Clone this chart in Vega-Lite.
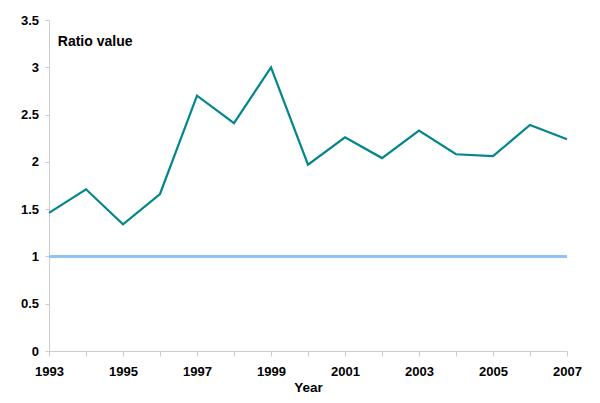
{
  "$schema": "https://vega.github.io/schema/vega-lite/v6.json",
  "width": 518,
  "height": 331,
  "autosize": "none",
  "padding": {"left": 49, "top": 20, "right": 33, "bottom": 52},
  "background": "white",
  "config": {"view": {"stroke": null}},
  "data": {"values": [
    {"year": 1993, "ratio": 1.46},
    {"year": 1994, "ratio": 1.71},
    {"year": 1995, "ratio": 1.34},
    {"year": 1996, "ratio": 1.66},
    {"year": 1997, "ratio": 2.70},
    {"year": 1998, "ratio": 2.41},
    {"year": 1999, "ratio": 3.00},
    {"year": 2000, "ratio": 1.97},
    {"year": 2001, "ratio": 2.26},
    {"year": 2002, "ratio": 2.04},
    {"year": 2003, "ratio": 2.33},
    {"year": 2004, "ratio": 2.08},
    {"year": 2005, "ratio": 2.06},
    {"year": 2006, "ratio": 2.39},
    {"year": 2007, "ratio": 2.24}
  ]},
  "layer": [
    {
      "mark": {"type": "rule", "color": "#8ec3f2", "strokeWidth": 1.6},
      "encoding": {"y": {"datum": 1, "type": "quantitative"}}
    },
    {
      "mark": {"type": "line", "color": "#00868b", "strokeWidth": 2.2},
      "encoding": {
        "x": {
          "field": "year", "type": "quantitative",
          "scale": {"domain": [1993, 2007], "nice": false, "zero": false},
          "axis": {
            "values": [1993,1994,1995,1996,1997,1998,1999,2000,2001,2002,2003,2004,2005,2006,2007],
            "format": "d",
            "labelExpr": "datum.value % 2 == 1 ? datum.label : ''",
            "labelFlush": false,
            "grid": false,
            "domainColor": "#cccccc",
            "tickColor": "#cccccc",
            "tickSize": 5,
            "labelPadding": 9,
            "labelFont": "Liberation Sans",
            "labelFontWeight": "bold",
            "labelFontSize": 13,
            "labelColor": "black",
            "labelOverlap": false,
            "title": "Year",
            "titleFont": "Liberation Sans",
            "titleFontWeight": "bold",
            "titleFontSize": 13.5,
            "titleColor": "black",
            "titlePadding": 2
          }
        },
        "y": {
          "field": "ratio", "type": "quantitative",
          "scale": {"domain": [0, 3.5], "nice": false},
          "axis": {
            "values": [0, 0.5, 1, 1.5, 2, 2.5, 3, 3.5],
            "format": "~g",
            "labelFlush": false,
            "grid": false,
            "domainColor": "#cccccc",
            "tickColor": "#cccccc",
            "tickSize": 4,
            "labelPadding": 6.5,
            "labelFont": "Liberation Sans",
            "labelFontWeight": "bold",
            "labelFontSize": 13,
            "labelColor": "black",
            "title": "Ratio value",
            "titleAngle": 0,
            "titleAlign": "left",
            "titleBaseline": "middle",
            "titleX": 8.3,
            "titleY": 21,
            "titleFont": "Liberation Sans",
            "titleFontWeight": "bold",
            "titleFontSize": 14,
            "titleColor": "black"
          }
        }
      }
    }
  ]
}
